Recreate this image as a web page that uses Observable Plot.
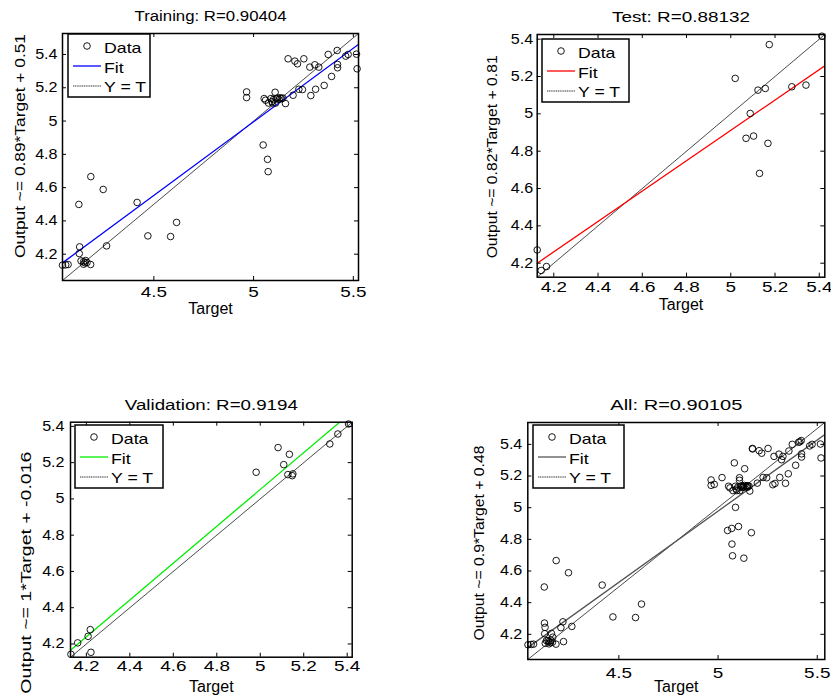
<!DOCTYPE html>
<html><head><meta charset="utf-8">
<script src="https://cdn.jsdelivr.net/npm/d3@7"></script>
<script src="https://cdn.jsdelivr.net/npm/@observablehq/plot@0.6"></script>
<style>
body{margin:0;background:#fff;}
#root{position:relative;width:831px;height:696px;overflow:hidden;background:#fff;font-family:"Liberation Sans",Arial,sans-serif;}
.panel{position:absolute;}
.legend{position:absolute;}
</style></head><body><div id="root"></div>
<script>
// ---------- DATA ----------
const trainTarget = [4.042,4.058,4.070,4.124,4.184,4.246,4.416,4.128,4.126,4.263,4.470,4.584,4.614,
  4.135,4.148,4.158,4.165,4.148,4.183,4.155,
  4.965,4.965,5.048,5.070,5.073,
  5.053,5.060,5.075,5.087,5.092,5.100,5.108,5.113,5.120,5.127,5.133,5.140,5.147,5.095,5.110,5.160,
  5.173,5.207,5.220,5.252,5.282,5.307,5.327,5.374,5.419,5.462,5.474,5.516,5.519,5.421,5.421,
  5.391,5.354,5.311,5.287,5.227,5.245,5.198];
const trainOutput = [4.134,4.136,4.138,4.499,4.666,4.589,4.511,4.244,4.204,4.250,4.310,4.306,4.391,
  4.160,4.155,4.162,4.150,4.140,4.138,4.148,
  5.175,5.141,4.856,4.770,4.696,
  5.135,5.125,5.108,5.135,5.117,5.130,5.173,5.135,5.138,5.130,5.140,5.135,5.138,5.108,5.108,5.105,
  5.374,5.360,5.344,5.374,5.324,5.338,5.324,5.400,5.424,5.390,5.400,5.402,5.314,5.340,5.320,
  5.268,5.214,5.191,5.153,5.191,5.189,5.155];

const testTarget = [4.125,4.143,4.167,5.020,5.174,5.123,5.156,5.276,5.340,5.412,5.088,5.069,5.103,5.168,5.130];
const testOutput = [4.271,4.161,4.182,5.190,5.371,5.127,5.136,5.145,5.154,5.416,5.002,4.869,4.881,4.842,4.681];

const valTarget = [4.129,4.160,4.208,4.218,4.221,4.981,5.082,5.134,5.108,5.127,5.150,5.147,5.320,5.357,5.406];
const valOutput = [4.143,4.206,4.242,4.279,4.154,5.147,5.283,5.246,5.189,5.134,5.138,5.128,5.303,5.358,5.413];

// fit line end points
const trainFitX = [4.042, 5.526], trainFitY = [4.148, 5.461];
const testFitX  = [4.125, 5.425], testFitY  = [4.200, 5.257];
const valFitX   = [4.127, 5.365], valFitY   = [4.165, 5.423];
const allFitX   = [4.041, 5.538], allFitY   = [4.116, 5.462];

// axis limits
const trainLim = [4.042, 5.526];
const testLim  = [4.125, 5.425];
const valLim   = [4.127, 5.423];
const allLim   = [4.041, 5.538];

// ticks
const ticksWide = [4.5, 5, 5.5];
const ticksFine = [4.2, 4.4, 4.6, 4.8, 5, 5.2, 5.4];

const titles = ["Training: R=0.90404", "Test: R=0.88132", "Validation: R=0.9194", "All: R=0.90105"];
const yLabels = ["Output ~= 0.89*Target + 0.51", "Output ~= 0.82*Target + 0.81",
                 "Output ~= 1*Target + -0.016", "Output ~= 0.9*Target + 0.48"];
const xLabel = "Target";
const legendLabels = ["Data", "Fit", "Y = T"];
const fitColors = ["#0000ff", "#ff0000", "#00ee00", "#555555"];

// ---------- DRAW ----------
const root = document.getElementById("root");
const FONT = '"Liberation Sans", Arial, sans-serif';

function rows(xs, ys){ return xs.map((x,i)=>({x, y: ys[i]})); }

function setLen(t, L){ t.setAttribute("textLength", L); t.setAttribute("lengthAdjust", "spacingAndGlyphs"); }

function panel(c){
  const W = c.fr - c.fl, H = c.fb - c.ft;
  const data = rows(c.tx, c.ty);
  const fit = rows(c.fitX, c.fitY);
  const diag = rows(c.lim, c.lim);
  const fmt = d => String(d);
  const svg = Plot.plot({
    width: c.w, height: c.h,
    marginLeft: c.fl - c.left, marginRight: c.left + c.w - c.fr,
    marginTop: c.ft - c.top, marginBottom: c.top + c.h - c.fb,
    x: {domain: c.lim}, y: {domain: c.lim},
    style: {fontFamily: FONT, fontSize: "14px", color: "#000", background: "transparent", overflow: "visible"},
    marks: [
      Plot.line(diag, {x: "x", y: "y", stroke: "#000", strokeWidth: 0.7, strokeDasharray: "1.2,0.6", clip: true}),
      Plot.line(fit, {x: "x", y: "y", stroke: c.fitColor, strokeWidth: 1.3, clip: true}),
      Plot.dot(data, {x: "x", y: "y", r: 3.3, stroke: "#000", strokeWidth: 0.9, fill: "none"}),
      Plot.tickX(c.xticks, {x: d => d, insetTop: H - 4, stroke: "#000", strokeWidth: 1}),
      Plot.tickX(c.xticks, {x: d => d, insetBottom: H - 4, stroke: "#000", strokeWidth: 1}),
      Plot.tickY(c.yticks, {y: d => d, insetRight: W - 4, stroke: "#000", strokeWidth: 1}),
      Plot.tickY(c.yticks, {y: d => d, insetLeft: W - 4, stroke: "#000", strokeWidth: 1}),
      Plot.frame({stroke: "#000", strokeWidth: 1.5}),
      Plot.axisX({ticks: c.xticks, tickFormat: fmt, tickSize: 0, tickPadding: c.xpad, label: null, fontSize: 14}),
      Plot.axisY({ticks: c.yticks, tickFormat: fmt, tickSize: 0, tickPadding: c.ypad, label: null, fontSize: 14}),
      Plot.text([c.title], {text: d => d, frameAnchor: "top", textAnchor: "middle", dy: -12.5, lineAnchor: "bottom", fontSize: 14}),
      Plot.text([xLabel], {text: d => d, frameAnchor: "bottom", textAnchor: "middle", dy: c.xlabDy, lineAnchor: "bottom", fontSize: 16}),
      Plot.text([c.ylabel], {text: d => d, frameAnchor: "left", textAnchor: "middle", dx: c.ylabDx, dy: c.ylabDy, rotate: -90, lineAnchor: "middle", fontSize: 15.5})
    ]
  });
  svg.classList.add("panel");
  svg.style.left = c.left + "px";
  svg.style.top = c.top + "px";
  root.appendChild(svg);

  // widen the horizontal texts the way the reference's font is drawn
  svg.querySelectorAll("text").forEach(t => {
    const g = t.closest("g");
    const lab = (g && g.getAttribute("aria-label")) || "";
    const s = t.textContent;
    const L = t.getComputedTextLength();
    if (!(L > 0)) return;
    if (lab.includes("x-axis")) setLen(t, L * 1.35);
    else if (lab.includes("y-axis")) setLen(t, L * 1.15);
    else if (s === c.title) setLen(t, c.titleLen);
    else if (s === c.ylabel) setLen(t, c.ylabLen);
  });

  // legend
  const lg = d3.create("svg").attr("class", "legend")
    .attr("width", c.lw + 2).attr("height", 66)
    .style("left", (c.fl + c.lx - 1) + "px").style("top", (c.ft + c.ly - 1) + "px")
    .style("font-family", FONT).style("font-size", "15px");
  lg.append("rect").attr("x", 1).attr("y", 1).attr("width", c.lw).attr("height", 63)
    .attr("fill", "#fff").attr("stroke", "#000").attr("stroke-width", 1.5);
  lg.append("circle").attr("cx", 20).attr("cy", 13).attr("r", 3.3).attr("fill", "none").attr("stroke", "#000").attr("stroke-width", 0.9);
  lg.append("line").attr("x1", 6).attr("x2", 34).attr("y1", 33).attr("y2", 33).attr("stroke", c.fitColor).attr("stroke-width", 1.3);
  lg.append("line").attr("x1", 6).attr("x2", 34).attr("y1", 53).attr("y2", 53).attr("stroke", "#000").attr("stroke-width", 0.8).attr("stroke-dasharray", "1.2,0.6");
  const ys = [19.5, 39.5, 59];
  legendLabels.forEach((t, i) => lg.append("text").attr("x", 37).attr("y", ys[i]).text(t));
  root.appendChild(lg.node());
  lg.node().querySelectorAll("text").forEach(t => { const L = t.getComputedTextLength(); if (L > 0) setLen(t, L * 1.18); });
}

panel({left: 0, top: 0, w: 400, h: 330, fl: 62, fr: 358, ft: 33, fb: 280,
  lim: trainLim, xticks: ticksWide, yticks: ticksFine, tx: trainTarget, ty: trainOutput,
  fitX: trainFitX, fitY: trainFitY, fitColor: fitColors[0], title: titles[0], ylabel: yLabels[0],
  titleLen: 152, ylabLen: 224,
  xpad: 7, ypad: 5, xlabDy: 33, ylabDx: -42, ylabDy: -11, lx: 5.7, ly: 1.3, lw: 82});
panel({left: 440, top: 0, w: 391, h: 330, fl: 536.7, fr: 824.3, ft: 34, fb: 276.7,
  lim: testLim, xticks: ticksFine, yticks: ticksFine, tx: testTarget, ty: testOutput,
  fitX: testFitX, fitY: testFitY, fitColor: fitColors[1], title: titles[1], ylabel: yLabels[1],
  titleLen: 138, ylabLen: 203,
  xpad: 5, ypad: 4, xlabDy: 33, ylabDx: -44.7, ylabDy: 1, lx: 5, ly: 5, lw: 87});
panel({left: 0, top: 370, w: 400, h: 326, fl: 70, fr: 351.7, ft: 421.7, fb: 656.7,
  lim: valLim, xticks: ticksFine, yticks: ticksFine, tx: valTarget, ty: valOutput,
  fitX: valFitX, fitY: valFitY, fitColor: fitColors[2], title: titles[2], ylabel: yLabels[2],
  titleLen: 173, ylabLen: 242,
  xpad: 3.5, ypad: 6, xlabDy: 34.5, ylabDx: -44.3, ylabDy: 33, lx: 5, ly: 3.3, lw: 88});
panel({left: 440, top: 370, w: 391, h: 326, fl: 527.3, fr: 824.3, ft: 422, fb: 659,
  lim: allLim, xticks: ticksWide, yticks: ticksFine,
  tx: trainTarget.concat(testTarget, valTarget), ty: trainOutput.concat(testOutput, valOutput),
  fitX: allFitX, fitY: allFitY, fitColor: fitColors[3], title: titles[3], ylabel: yLabels[3],
  titleLen: 132, ylabLen: 195,
  xpad: 9, ypad: 5.5, xlabDy: 32.5, ylabDx: -48.3, ylabDy: 2, lx: 5.4, ly: 3, lw: 91});
</script>
</body></html>
